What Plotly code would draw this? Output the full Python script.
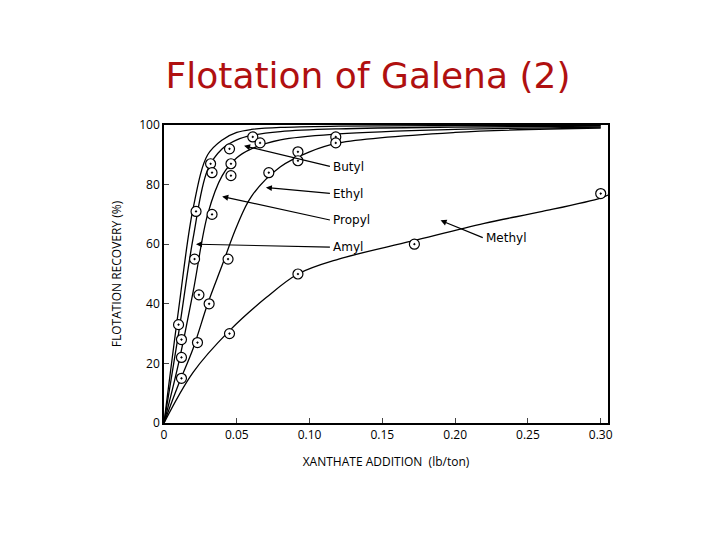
import plotly.graph_objects as go

# measured points
amyl_x = [0.010, 0.022, 0.032, 0.045, 0.061]
amyl_y = [33, 71, 87, 92, 96]
butyl_x = [0.012, 0.021, 0.033, 0.046, 0.066, 0.118]
butyl_y = [28, 55, 84, 87, 94, 96]
propyl_x = [0.012, 0.024, 0.033, 0.046, 0.092, 0.118]
propyl_y = [22, 43, 70, 83, 91, 94]
ethyl_x = [0.012, 0.023, 0.031, 0.044, 0.072, 0.092]
ethyl_y = [15, 27, 40, 55, 84, 88]
methyl_x = [0.045, 0.092, 0.172, 0.300]
methyl_y = [30, 50, 60, 77]

# fitted curves
amyl_cx = [0, 0.01, 0.02, 0.03, 0.04, 0.05, 0.06, 0.08, 0.12, 0.2, 0.3]
amyl_cy = [0, 38, 72, 90, 95, 97.5, 98.5, 99.2, 99.6, 99.8, 99.9]
butyl_cx = [0, 0.01, 0.02, 0.03, 0.04, 0.05, 0.06, 0.08, 0.12, 0.2, 0.3]
butyl_cy = [0, 30, 62, 85, 92, 95, 96.5, 97.8, 98.7, 99.3, 99.6]
propyl_cx = [0, 0.01, 0.02, 0.03, 0.04, 0.05, 0.06, 0.08, 0.12, 0.2, 0.3]
propyl_cy = [0, 20, 44, 70, 83, 89, 92, 95, 97, 98.5, 99.3]
ethyl_cx = [0, 0.01, 0.02, 0.03, 0.04, 0.05, 0.06, 0.08, 0.1, 0.12, 0.2, 0.3]
ethyl_cy = [0, 13, 25, 40, 53, 66, 76, 86, 91, 94, 97.5, 99]
methyl_cx = [0, 0.02, 0.045, 0.07, 0.092, 0.12, 0.17, 0.22, 0.26, 0.3, 0.305]
methyl_cy = [0, 17, 31, 42, 50, 55, 61, 67, 71, 75.5, 76.5]

fig = go.Figure()
for cx, cy in [(amyl_cx, amyl_cy), (butyl_cx, butyl_cy), (propyl_cx, propyl_cy),
               (ethyl_cx, ethyl_cy), (methyl_cx, methyl_cy)]:
    fig.add_trace(go.Scatter(x=cx, y=cy, mode="lines", line=dict(color="black", width=1.3, shape="spline"),
                             hoverinfo="skip"))
for px, py in [(amyl_x, amyl_y), (butyl_x, butyl_y), (propyl_x, propyl_y), (ethyl_x, ethyl_y), (methyl_x, methyl_y)]:
    fig.add_trace(go.Scatter(x=px, y=py, mode="markers",
                             marker=dict(symbol="circle-dot", size=10, color="white",
                                         line=dict(color="black", width=1.2))))

labels = [("Butyl", 0.115, 86, 0.055, 93), ("Ethyl", 0.115, 77, 0.070, 79),
          ("Propyl", 0.115, 68, 0.040, 76), ("Amyl", 0.115, 59, 0.022, 60),
          ("Methyl", 0.22, 62, 0.19, 68)]
for t, tx, ty, ax_, ay_ in labels:
    fig.add_annotation(x=ax_, y=ay_, ax=tx, ay=ty, axref="x", ayref="y", text="",
                       showarrow=True, arrowhead=2, arrowsize=1, arrowwidth=1.2, arrowcolor="black")
    fig.add_annotation(x=tx, y=ty, text=t, showarrow=False, xanchor="left",
                       font=dict(family="DejaVu Sans", size=12, color="black"))

fig.update_layout(
    width=720, height=540, showlegend=False, plot_bgcolor="white", paper_bgcolor="white",
    margin=dict(l=156, r=120, t=117, b=125),
    title=dict(text="Flotation of Galena (2)", x=0.5, y=0.875, xanchor="center", yanchor="middle",
               font=dict(family="DejaVu Sans", size=36, color="#b01010")),
    xaxis=dict(range=[0, 0.305], tickvals=[0, 0.05, 0.10, 0.15, 0.20, 0.25, 0.30],
               ticktext=["0", "0.05", "0.10", "0.15", "0.20", "0.25", "0.30"],
               ticks="inside", showgrid=False, zeroline=False, showline=True, mirror=True,
               linecolor="black", linewidth=1.5, tickfont=dict(size=12, color="black"),
               title=dict(text="XANTHATE ADDITION  (lb/ton)", font=dict(size=12, color="black"))),
    yaxis=dict(range=[0, 100], tickvals=[0, 20, 40, 60, 80, 100],
               ticks="inside", showgrid=False, zeroline=False, showline=True, mirror=True,
               linecolor="black", linewidth=1.5, tickfont=dict(size=12, color="black"),
               title=dict(text="FLOTATION RECOVERY (%)", font=dict(size=12, color="black"))),
)
fig.write_html("out.html")
